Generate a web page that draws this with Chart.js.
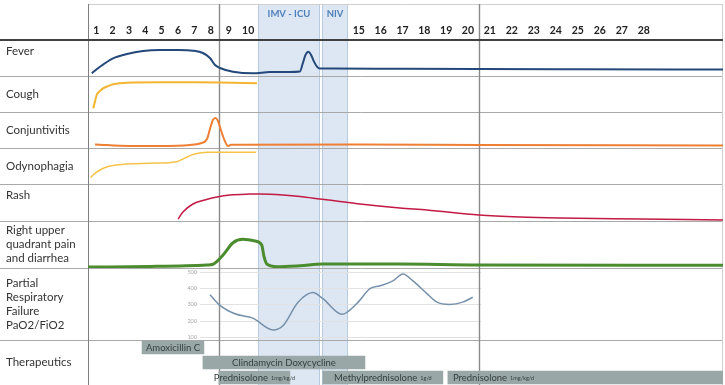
<!DOCTYPE html>
<html><head><meta charset="utf-8">
<script src="https://cdn.jsdelivr.net/npm/chart.js@4.4.1/dist/chart.umd.min.js"></script>
<style>html,body{margin:0;padding:0;background:#fff;}canvas{display:block;}</style>
</head><body>
<canvas id="c" width="725" height="385"></canvas>
<script>
// ---------------- DATA ----------------
const dayTicks = [1,2,3,4,5,6,7,8,9,10,11,12,13,14,15,16,17,18,19,20,21,22,23,24,25,26,27,28];
const rowLabels = [['Fever'],['Cough'],['Conjuntivitis'],['Odynophagia'],['Rash'],
  ['Right upper','quadrant pain','and diarrhea'],['Partial','Respiratory','Failure','PaO2/FiO2'],['Therapeutics']];

const phaseNames = ['IMV - ICU', 'NIV'];
const phaseStart = [10.5, 13.55];
const phaseEnd = [13.45, 14.5];
const periodMarks = [8.5, 20.5];

const feverDays  = [0.73,1.23,2.03,2.88,3.86,4.9,6.0,6.91,7.52,7.95,8.26,8.55,9.22,10.24,11.07,12.0,12.5,12.64,12.76,12.9,13.02,13.17,13.31,13.45,13.94,17.0,20.5,25.0,31.6];
const feverLevel = [0.75,2.58,4.91,6.11,6.94,7.22,7.22,7.03,6.39,5.0,3.06,2.22,1.2,0.75,1.1,1.11,1.25,3.6,5.8,6.75,6.0,4.0,2.6,2.08,2.08,2.0,1.94,1.9,1.8];

const coughDays  = [0.82,0.92,1.03,1.22,1.42,1.72,2.03,2.88,4.9,7.0,8.55,10.45];
const coughLevel = [1.03,2.8,4.72,5.8,6.57,7.2,7.69,8.14,8.25,8.25,8.2,8.0];

const conjDays  = [0.93,3.06,4.9,6.73,7.34,7.77,7.95,8.13,8.29,8.44,8.6,8.78,8.97,9.12,15.0,20.5,31.6];
const conjLevel = [0.97,0.56,0.56,0.83,1.25,2.5,5.28,7.78,8.33,7.5,5.0,2.22,0.56,0.9,0.95,0.85,0.7];

const odyDays  = [0.66,0.81,1.23,1.72,2.25,4.29,5.92,6.42,6.91,7.34,7.77,10.4];
const odyLevel = [1.75,2.5,3.89,4.86,5.28,5.75,6.19,7.2,8.2,8.61,8.81,8.81];

const rashDays  = [6.0,6.3,6.91,7.64,8.38,9.06,10.09,10.6,11.07,11.69,12.5,13.45,14.2,15.05,16.88,18.12,20.5,22.36,24.18,27.82,31.6];
const rashLevel = [0.54,2.43,4.59,5.68,6.49,7.03,7.28,7.32,7.25,7.03,6.62,5.95,5.27,4.59,3.51,2.97,1.62,1.08,0.81,0.54,0.27];

const ruqDays  = [0.5,4.29,7.77,8.13,8.71,9.22,9.73,10.35,10.68,10.79,10.92,11.39,12.5,13.57,16.88,20.5,31.6];
const ruqLevel = [0.21,0.32,0.64,0.79,2.77,5.38,6.11,5.74,4.89,2.4,0.85,0.28,0.49,0.85,0.85,0.64,0.6];

const pao2Days   = [7.95,8.55,9.32,10.24,11.21,11.69,12.4,13.12,13.57,14.28,14.91,15.51,15.97,16.56,17.02,17.48,18.12,18.58,19.17,19.76,20.22];
const pao2Values = [360,294,242,215,142,168,312,373,336,239,306,397,415,445,488,445,367,314,300,314,344];
const pao2Ticks  = [100,200,300,400,500];

const therapyLanes = ['antibiotic A','antibiotic B','corticosteroid'];
const therapyNames = ['Amoxicillin C','Clindamycin Doxycycline','Prednisolone','Methylprednisolone','Prednisolone'];
const therapyDose  = ['','','1mg/kg/d','1g/d','1mg/kg/d'];
const therapyLane  = ['antibiotic A','antibiotic B','corticosteroid','corticosteroid','corticosteroid'];
const therapyStart = [3.8,7.52,8.5,13.57,19.08];
const therapyEnd   = [7.58,15.28,12.02,18.85,31.6];

// ---------------- LAYOUT ----------------
const LABEL_COL = 88;
const DAY_MIN = 0.5, DAY_MAX = 31.6;
const DAY_COLUMNS = [{to:8.5,w:16.375},{to:10.5,w:19.5},{to:13.5,w:21},{to:14.5,w:27},{to:20.5,w:21.83},{to:31.6,w:22}];
const ROW_IDS = ['y','yCough','yConj','yOdy','yRash','yRuq','yPao2','yTher'];
const ROW_HEIGHTS = [36,36,36,36,37,47,72,45];
const LABEL_ANCHOR = ['top','middle','middle','middle','top','middle','middle','middle'];
const PAO2_PANEL = {from: 7.34, to: 20.6};
const THERAPY_ALIGN = ['center','center','center','center','left'];
const FONT = 'Lato, "Open Sans", sans-serif';

// ---------------- custom piecewise day scale ----------------
const LS = Chart.LinearScale || Chart.registry.getScale('linear');
function dayUnits(v) {
  let from = DAY_MIN, acc = 0;
  for (let i = 0; i < DAY_COLUMNS.length; i++) {
    const c = DAY_COLUMNS[i];
    if (v <= c.to || i === DAY_COLUMNS.length - 1) { acc += (v - from) * c.w; return acc; }
    acc += (c.to - from) * c.w; from = c.to;
  }
  return acc;
}
class DayScale extends LS {
  getPixelForValue(v) {
    if (v === null || v === undefined || isNaN(v)) return NaN;
    return this.left + dayUnits(v) / dayUnits(DAY_MAX) * this.width;
  }
  getValueForPixel(p) {
    const target = (p - this.left) / this.width * dayUnits(DAY_MAX);
    let from = DAY_MIN, acc = 0;
    for (let i = 0; i < DAY_COLUMNS.length; i++) {
      const c = DAY_COLUMNS[i], seg = (c.to - from) * c.w;
      if (target <= acc + seg || i === DAY_COLUMNS.length - 1) return from + (target - acc) / c.w;
      acc += seg; from = c.to;
    }
    return DAY_MAX;
  }
}
DayScale.id = 'dayscale';
DayScale.defaults = LS.defaults;
Chart.register(DayScale);

// ---------------- helpers ----------------
const mk = (days, vals) => days.map((d, i) => ({x: d, y: vals[i]}));
const lineDs = (label, days, vals, yAxisID, color, width) => ({
  label, data: mk(days, vals), xAxisID: 'x', yAxisID, borderColor: color, borderWidth: width,
  backgroundColor: color, fill: false, cubicInterpolationMode: 'monotone', pointRadius: 0, pointHoverRadius: 0
});

function rowAxis(i, extra) {
  return Object.assign({
    type: 'linear', position: 'left', stack: 'rows', stackWeight: ROW_HEIGHTS[i], weight: 10 - i,
    min: 0, max: 10, display: true,
    ticks: {display: false}, grid: {display: false}, border: {display: false},
    afterFit: s => { s.width = LABEL_COL; }
  }, extra || {});
}

const scales = {
  x: {
    type: 'dayscale', position: 'top', min: DAY_MIN, max: DAY_MAX,
    grid: {display: false, drawTicks: false}, border: {display: false},
    ticks: {autoSkip: false, maxRotation: 0, padding: 3, color: '#222', font: {family: FONT, size: 10.5, weight: 'bold'}, callback: v => String(v)},
    afterBuildTicks: s => { s.ticks = dayTicks.map(v => ({value: v})); },
    afterFit: s => { s.height = 36; }
  }
};
ROW_IDS.forEach((id, i) => {
  if (id === 'yPao2') scales[id] = rowAxis(i, {min: 80, max: 525});
  else if (id === 'yTher') scales[id] = rowAxis(i, {type: 'category', labels: therapyLanes, offset: true, min: undefined, max: undefined});
  else scales[id] = rowAxis(i);
});

// ---------------- plugins ----------------
const framePlugin = {
  id: 'frame',
  beforeDatasetsDraw(chart) {
    const ctx = chart.ctx, x = chart.scales.x;
    const top = 4, bottom = chart.height, right = x.right;
    ctx.save();
    // phase shading
    phaseStart.forEach((s, i) => {
      const a = x.getPixelForValue(s), b = x.getPixelForValue(phaseEnd[i]);
      ctx.fillStyle = '#dde7f3';
      ctx.fillRect(a, top, b - a, bottom - top);
      ctx.strokeStyle = '#b8cade'; ctx.lineWidth = 1;
      ctx.beginPath();
      ctx.moveTo(Math.round(a) + 0.5, top); ctx.lineTo(Math.round(a) + 0.5, bottom);
      ctx.moveTo(Math.round(b) - 0.5, top); ctx.lineTo(Math.round(b) - 0.5, bottom);
      ctx.stroke();
    });
    // PaO2 mini panel grid
    const py = chart.scales.yPao2;
    const gx0 = x.getPixelForValue(PAO2_PANEL.from), gx1 = x.getPixelForValue(PAO2_PANEL.to);
    ctx.strokeStyle = '#e2e2e2'; ctx.lineWidth = 1;
    ctx.font = '5.5px ' + FONT; ctx.fillStyle = '#a8a8a8'; ctx.textAlign = 'right'; ctx.textBaseline = 'middle';
    pao2Ticks.forEach(t => {
      const yy = Math.round(py.getPixelForValue(t)) + 0.5;
      ctx.beginPath(); ctx.moveTo(gx0, yy); ctx.lineTo(gx1, yy); ctx.stroke();
      ctx.fillText(String(t), gx0 - 3, yy);
    });
    // row lines
    ctx.strokeStyle = '#a9a9a9'; ctx.lineWidth = 1;
    ROW_IDS.forEach((id, i) => {
      if (i === ROW_IDS.length - 1) return;
      const yy = Math.round(chart.scales[id].bottom) + 0.5;
      ctx.beginPath(); ctx.moveTo(0, yy); ctx.lineTo(right, yy); ctx.stroke();
    });
    // top border
    ctx.strokeStyle = '#cfcfcf';
    ctx.beginPath(); ctx.moveTo(LABEL_COL, top + 0.5); ctx.lineTo(right, top + 0.5); ctx.stroke();
    // right border
    ctx.beginPath(); ctx.moveTo(right - 0.5, top); ctx.lineTo(right - 0.5, bottom); ctx.stroke();
    // label column line
    ctx.strokeStyle = '#7f7f7f';
    ctx.beginPath(); ctx.moveTo(LABEL_COL + 0.5, top); ctx.lineTo(LABEL_COL + 0.5, bottom); ctx.stroke();
    // period marks
    ctx.strokeStyle = '#8a8a8a'; ctx.lineWidth = 1.4;
    periodMarks.forEach(d => {
      const xx = Math.round(x.getPixelForValue(d)) + 0.5;
      ctx.beginPath(); ctx.moveTo(xx, top); ctx.lineTo(xx, bottom); ctx.stroke();
    });
    // header thick line
    ctx.strokeStyle = '#404040'; ctx.lineWidth = 2.2;
    ctx.beginPath(); ctx.moveTo(0, chart.chartArea.top); ctx.lineTo(right, chart.chartArea.top); ctx.stroke();
    ctx.restore();
  },
  afterDatasetsDraw(chart) {
    const ctx = chart.ctx, x = chart.scales.x;
    ctx.save();
    // therapy bar labels
    const meta = chart.getDatasetMeta(chart.data.datasets.length - 1);
    meta.data.forEach((bar, i) => {
      const p = bar.getProps(['x', 'y', 'base'], true);
      const l = Math.min(p.x, p.base), r = Math.max(p.x, p.base);
      const nameFont = '9.5px ' + FONT, doseFont = '5.5px ' + FONT;
      ctx.font = nameFont; const wn = ctx.measureText(therapyNames[i]).width;
      ctx.font = doseFont; const wd = therapyDose[i] ? ctx.measureText(therapyDose[i]).width + 3 : 0;
      const total = wn + wd;
      let sx = THERAPY_ALIGN[i] === 'left' ? l + 5 : (l + r) / 2 - total / 2;
      ctx.textAlign = 'left'; ctx.textBaseline = 'middle'; ctx.fillStyle = '#34403f';
      ctx.font = nameFont; ctx.fillText(therapyNames[i], sx, p.y);
      if (therapyDose[i]) { ctx.font = doseFont; ctx.fillText(therapyDose[i], sx + wn + 3, p.y + 1); }
    });
    // row labels
    ctx.fillStyle = '#333'; ctx.font = '11.5px ' + FONT; ctx.textAlign = 'left'; ctx.textBaseline = 'middle';
    ROW_IDS.forEach((id, i) => {
      const s = chart.scales[id], lines = rowLabels[i], lh = 14;
      let y0 = LABEL_ANCHOR[i] === 'top' ? s.top + 11.5 : (s.top + s.bottom) / 2 - (lines.length - 1) * lh / 2;
      lines.forEach((t, k) => ctx.fillText(t, 6, y0 + k * lh));
    });
    // phase names
    ctx.fillStyle = '#4f7fba'; ctx.font = 'bold 9.5px ' + FONT; ctx.textAlign = 'center';
    phaseNames.forEach((n, i) => {
      const c = (x.getPixelForValue(phaseStart[i]) + x.getPixelForValue(phaseEnd[i])) / 2;
      ctx.fillText(n, c, 14);
    });
    ctx.restore();
  }
};

new Chart(document.getElementById('c').getContext('2d'), {
  type: 'line',
  data: {
    datasets: [
      lineDs('Fever', feverDays, feverLevel, 'y', '#24487a', 2),
      lineDs('Cough', coughDays, coughLevel, 'yCough', '#f3b531', 2),
      lineDs('Conjuntivitis', conjDays, conjLevel, 'yConj', '#ee7f35', 2),
      lineDs('Odynophagia', odyDays, odyLevel, 'yOdy', '#f6c34a', 1.5),
      lineDs('Rash', rashDays, rashLevel, 'yRash', '#c21a44', 1.5),
      lineDs('Right upper quadrant pain and diarrhea', ruqDays, ruqLevel, 'yRuq', '#4b8c2f', 3),
      lineDs('PaO2/FiO2', pao2Days, pao2Values, 'yPao2', '#7590aa', 1.5),
      {
        type: 'bar', label: 'Therapeutics', indexAxis: 'y', xAxisID: 'x', yAxisID: 'yTher',
        data: therapyNames.map((n, i) => ({y: therapyLane[i], x: [therapyStart[i], therapyEnd[i]]})),
        backgroundColor: '#9aa7a7', borderWidth: 0, barThickness: 13, grouped: false
      }
    ]
  },
  options: {
    responsive: false, animation: false, devicePixelRatio: 1,
    layout: {padding: {top: 4, right: 2, bottom: 0, left: 0}},
    plugins: {legend: {display: false}, tooltip: {enabled: false}, title: {display: false}},
    elements: {point: {radius: 0}},
    scales
  },
  plugins: [framePlugin]
});
</script>
</body></html>
